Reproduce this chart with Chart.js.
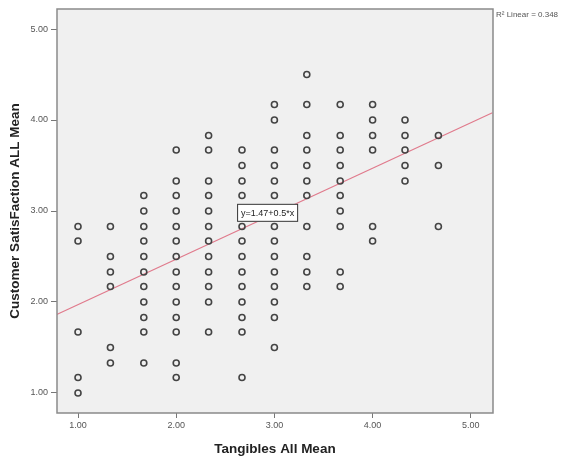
<!DOCTYPE html>
<html>
<head>
<meta charset="utf-8">
<script src="https://cdn.jsdelivr.net/npm/chart.js@4.4.0/dist/chart.umd.min.js"></script>
<style>
  html, body { margin: 0; padding: 0; background: #fff; }
</style>
</head>
<body>
<canvas id="chart" width="576" height="461"></canvas>
<script>
// ===== Data =====
let tangibles = [1.00, 1.33, 1.67, 2.00, 2.33, 2.67, 3.00, 3.33, 3.67, 4.00, 4.33, 4.67];

// customer satisfaction values seen in each tangibles column
let sat100 = [2.83, 2.67, 1.67, 1.17, 1.00];
let sat133 = [2.83, 2.50, 2.33, 2.17, 1.50, 1.33];
let sat167 = [3.17, 3.00, 2.83, 2.67, 2.50, 2.33, 2.17, 2.00, 1.83, 1.67, 1.33];
let sat200 = [3.67, 3.33, 3.17, 3.00, 2.83, 2.67, 2.50, 2.33, 2.17, 2.00, 1.83, 1.67, 1.33, 1.17];
let sat233 = [3.83, 3.67, 3.33, 3.17, 3.00, 2.83, 2.67, 2.50, 2.33, 2.17, 2.00, 1.67];
let sat267 = [3.67, 3.50, 3.33, 3.17, 3.00, 2.83, 2.67, 2.50, 2.33, 2.17, 2.00, 1.83, 1.67, 1.17];
let sat300 = [4.17, 4.00, 3.67, 3.50, 3.33, 3.17, 3.00, 2.83, 2.67, 2.50, 2.33, 2.17, 2.00, 1.83, 1.50];
let sat333 = [4.50, 4.17, 3.83, 3.67, 3.50, 3.33, 3.17, 2.83, 2.50, 2.33, 2.17];
let sat367 = [4.17, 3.83, 3.67, 3.50, 3.33, 3.17, 3.00, 2.83, 2.33, 2.17];
let sat400 = [4.17, 4.00, 3.83, 3.67, 2.83, 2.67];
let sat433 = [4.00, 3.83, 3.67, 3.50, 3.33];
let sat467 = [3.83, 3.50, 2.83];

let columns = [sat100, sat133, sat167, sat200, sat233, sat267,
               sat300, sat333, sat367, sat400, sat433, sat467];

// fit line ends, read at the plot edges
let fitX = [0.78, 5.22];
let fitY = [1.86, 4.08];

let xTicks = [1, 2, 3, 4, 5];
let yTicks = [1, 2, 3, 4, 5];

let fitLabel = "y=1.47+0.5*x";
let r2Label = "R\u00B2 Linear = 0.348";

// ===== Build points =====
let points = [];
tangibles.forEach((x, i) => {
  columns[i].forEach(y => points.push({ x: x, y: y }));
});

let fitLine = fitX.map((x, i) => ({ x: x, y: fitY[i] }));

// ===== Plot frame / labels plugin =====
let framePlugin = {
  id: "frame",
  beforeDatasetsDraw(chart) {
    let { ctx, chartArea: a } = chart;
    ctx.save();
    ctx.fillStyle = "#f0f0f0";
    ctx.fillRect(a.left, a.top, a.right - a.left, a.bottom - a.top);
    ctx.restore();
  },
  afterDraw(chart) {
    let { ctx, chartArea: a } = chart;
    let xs = chart.scales.x, ys = chart.scales.y;
    ctx.save();
    ctx.strokeStyle = "#8a8a8a";
    ctx.lineWidth = 1.5;
    ctx.strokeRect(a.left, a.top, a.right - a.left, a.bottom - a.top);

    // equation box
    let bx = xs.getPixelForValue(2.62);
    let by = ys.getPixelForValue(2.98);
    ctx.font = "9px 'Liberation Sans', Arial, sans-serif";
    let w = ctx.measureText(fitLabel).width + 7;
    ctx.fillStyle = "#fff";
    ctx.fillRect(bx, by - 9, w, 18);
    ctx.strokeStyle = "#333";
    ctx.lineWidth = 1;
    ctx.strokeRect(bx + 0.5, by - 8.5, w, 17);
    ctx.fillStyle = "#222";
    ctx.textBaseline = "middle";
    ctx.fillText(fitLabel, bx + 4, by + 0.5);

    // R2 note
    ctx.font = "8px 'Liberation Sans', Arial, sans-serif";
    ctx.fillStyle = "#555";
    ctx.fillText(r2Label, a.right + 3, a.top + 6);
    ctx.restore();
  }
};

// ===== Chart =====
let ctx = document.getElementById("chart").getContext("2d");

new Chart(ctx, {
  type: "scatter",
  data: {
    datasets: [
      {
        label: "points",
        data: points,
        pointStyle: "circle",
        pointRadius: 3,
        pointBorderWidth: 1.6,
        pointBackgroundColor: "rgba(0,0,0,0)",
        pointBorderColor: "#444"
      },
      {
        type: "line",
        label: "fit",
        data: fitLine,
        borderColor: "#e07a8c",
        borderWidth: 1.2,
        pointRadius: 0,
        fill: false
      }
    ]
  },
  options: {
    responsive: false,
    animation: false,
    layout: { padding: { top: 9, right: 83, left: 0, bottom: 0 } },
    plugins: {
      legend: { display: false },
      tooltip: { enabled: false }
    },
    scales: {
      x: {
        type: "linear",
        min: 0.786,
        max: 5.226,
        afterBuildTicks: s => { s.ticks = xTicks.map(v => ({ value: v })); },
        afterFit: s => { s.height = 48; },
        grid: { drawOnChartArea: false, drawTicks: true, tickLength: 5, color: "#777" },
        border: { display: false },
        ticks: {
          padding: 2,
          color: "#555",
          font: { family: "'Liberation Sans', Arial, sans-serif", size: 9 },
          callback: v => v.toFixed(2)
        },
        title: {
          display: true,
          text: "Tangibles All Mean",
          color: "#222",
          font: { family: "'Liberation Sans', Arial, sans-serif", size: 13.5, weight: "bold" },
          padding: { top: 0, bottom: 4 }
        }
      },
      y: {
        type: "linear",
        min: 0.78,
        max: 5.22,
        afterBuildTicks: s => { s.ticks = yTicks.map(v => ({ value: v })); },
        afterFit: s => { s.width = 57; },
        grid: { drawOnChartArea: false, drawTicks: true, tickLength: 6, color: "#777" },
        border: { display: false },
        ticks: {
          padding: 3,
          color: "#555",
          font: { family: "'Liberation Sans', Arial, sans-serif", size: 9 },
          callback: v => v.toFixed(2)
        },
        title: {
          display: true,
          text: "Customer SatisFaction ALL Mean",
          color: "#222",
          font: { family: "'Liberation Sans', Arial, sans-serif", size: 13.5, weight: "bold" },
          padding: { top: 7, bottom: 0 }
        }
      }
    }
  },
  plugins: [framePlugin]
});
</script>
</body>
</html>
